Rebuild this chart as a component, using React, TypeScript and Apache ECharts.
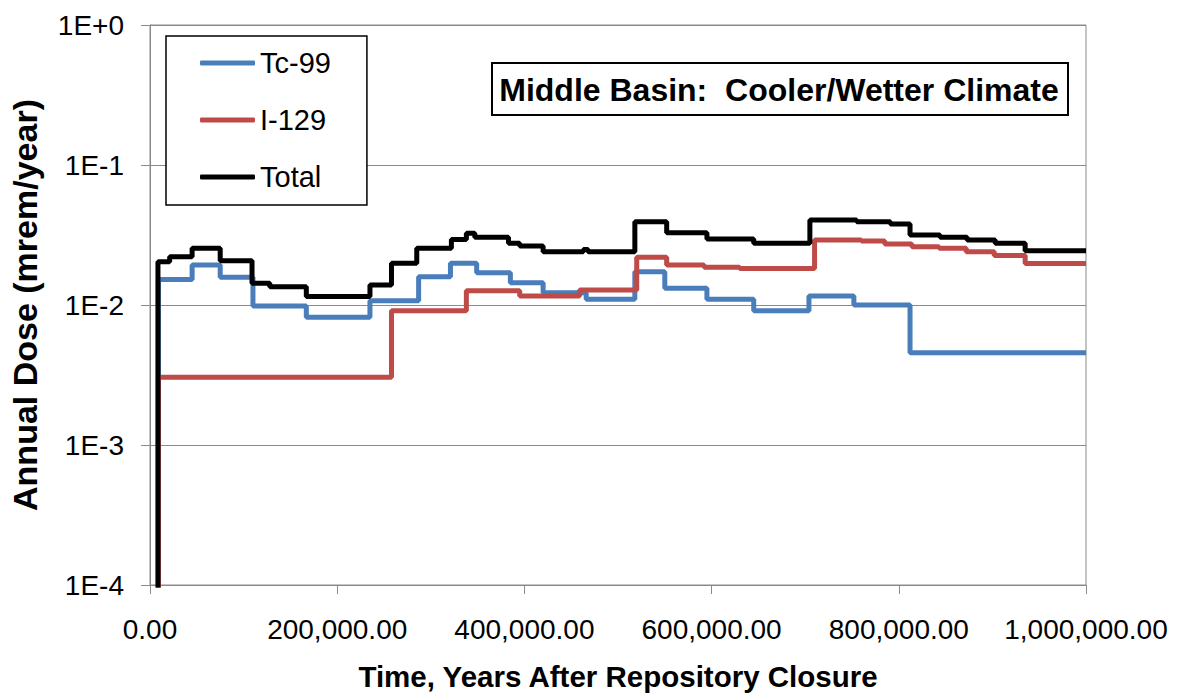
import React, { useEffect, useRef } from "react";
import * as echarts from "echarts";

const FONT = "'Liberation Sans', Arial, Helvetica, sans-serif";

const seriesNames = ["Tc-99", "I-129", "Total"];

// [time in years, annual dose in mrem/year]; each value holds until the next time
const tc99: [number, number][] = [
  [0, 0.00001], [9000, 0.0152], [45000, 0.0193], [75000, 0.0158], [110000, 0.00984],
  [167000, 0.00817], [235000, 0.01073], [287000, 0.0159], [321000, 0.0199],
  [349000, 0.017], [385000, 0.0144], [420000, 0.01225], [466000, 0.011],
  [518000, 0.0173], [550000, 0.01316], [595000, 0.011], [645000, 0.0091],
  [704000, 0.0116], [752000, 0.01], [812000, 0.00456], [1000000, 0.00456],
];

const i129: [number, number][] = [
  [0, 0.00001], [9000, 0.00305], [258000, 0.0091], [338000, 0.01265],
  [395000, 0.0116], [459000, 0.0128], [520000, 0.0219], [552000, 0.0193],
  [592000, 0.0186], [630000, 0.0182], [710000, 0.0291], [760000, 0.0287],
  [785000, 0.0273], [814000, 0.0261], [843000, 0.0254], [872000, 0.024],
  [902000, 0.0226], [935000, 0.0198], [1000000, 0.0198],
];

const total: [number, number][] = [
  [0, 0.00001], [8500, 0.0204], [21000, 0.0221], [45000, 0.0254], [75000, 0.0207],
  [109000, 0.0143], [128000, 0.0135], [167000, 0.0115], [235000, 0.0139],
  [258000, 0.0199], [285000, 0.0254], [322000, 0.0294], [338000, 0.0325],
  [347000, 0.0305], [383000, 0.0276], [395000, 0.0264], [420000, 0.024],
  [463000, 0.0249], [468000, 0.024], [518000, 0.0394], [552000, 0.0328],
  [595000, 0.0296], [645000, 0.0276], [705000, 0.0405], [755000, 0.0394],
  [791000, 0.0379], [812000, 0.0316], [844000, 0.0305], [873000, 0.0291],
  [903000, 0.0276], [935000, 0.0244], [1000000, 0.0244],
];

const colors = ["#4A7EBB", "#BE4B48", "#000000"];
const seriesData = [tc99, i129, total];

const chartTitle = "Middle Basin:  Cooler/Wetter Climate";
const xTitle = "Time, Years After Repository Closure";
const yTitle = "Annual Dose (mrem/year)";

export default function App() {
  const ref = useRef<HTMLDivElement>(null);
  useEffect(() => {
    document.body.style.margin = "0";
    const chart = echarts.init(ref.current!, undefined, { renderer: "svg" });
    chart.setOption({
      animation: false,
      backgroundColor: "#ffffff",
      textStyle: { fontFamily: FONT },
      grid: {
        left: 150, right: 92, top: 25, bottom: 111,
        show: true, borderColor: "#8a8a8a", borderWidth: 1,
      },
      legend: {
        orient: "vertical",
        left: 166, top: 36,
        padding: [12, 36, 13, 34],
        itemGap: 27,
        itemWidth: 55, itemHeight: 5,
        icon: "roundRect",
        backgroundColor: "#ffffff",
        borderColor: "#000000", borderWidth: 1.5,
        textStyle: { fontFamily: FONT, fontSize: 29, color: "#000", lineHeight: 30 },
        data: seriesNames,
      },
      graphic: [
        {
          type: "group",
          left: 491, top: 62,
          children: [
            { type: "rect", shape: { x: 0, y: 0, width: 576, height: 52 },
              style: { fill: "#fff", stroke: "#000", lineWidth: 2 } },
            { type: "text", x: 287, y: 27,
              style: { text: chartTitle, fontFamily: FONT, fontSize: 32, fontWeight: "bold",
                fill: "#000", align: "center", verticalAlign: "middle" } },
          ],
        },
      ],
      xAxis: {
        type: "value",
        min: 0, max: 1000000, interval: 200000,
        name: xTitle,
        nameLocation: "middle",
        nameGap: 76,
        nameTextStyle: { fontFamily: FONT, fontSize: 29.5, fontWeight: "bold", color: "#000" },
        axisLine: { show: true, lineStyle: { color: "#8a8a8a", width: 1 } },
        axisTick: { show: true, length: 9, lineStyle: { color: "#8a8a8a" } },
        axisLabel: {
          margin: 30, fontSize: 28, color: "#000", fontFamily: FONT,
          formatter: (v: number) => v.toLocaleString("en-US", { minimumFractionDigits: 2, maximumFractionDigits: 2 }),
        },
        splitLine: { show: false },
      },
      yAxis: {
        type: "log",
        logBase: 10,
        min: 0.0001, max: 1,
        name: yTitle,
        nameLocation: "middle",
        nameGap: 108,
        nameTextStyle: { fontFamily: FONT, fontSize: 34, fontWeight: "bold", color: "#000" },
        axisLine: { show: true, lineStyle: { color: "#8a8a8a", width: 1 } },
        axisTick: { show: true, length: 9, lineStyle: { color: "#8a8a8a" } },
        axisLabel: {
          margin: 26, fontSize: 28, color: "#000", fontFamily: FONT,
          formatter: (v: number) => {
            const e = Math.round(Math.log10(v));
            return "1E" + (e >= 0 ? "+" : "-") + Math.abs(e);
          },
        },
        splitLine: { show: true, lineStyle: { color: "#8a8a8a", width: 1 } },
      },
      series: seriesNames.map((name, i) => ({
        name,
        type: "line",
        step: "end",
        data: seriesData[i],
        showSymbol: false,
        symbol: "none",
        color: colors[i],
        lineStyle: { color: colors[i], width: 5 },
        clip: true,
        z: 2 + i,
      })),
    });
    return () => chart.dispose();
  }, []);
  return <div ref={ref} style={{ width: 1178, height: 696 }} />;
}
